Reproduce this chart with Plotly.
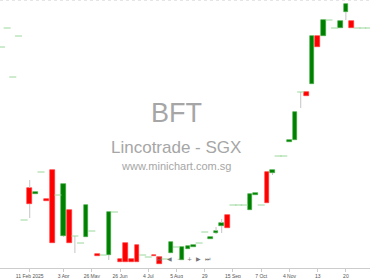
import plotly.graph_objects as go

# ---- data (price units; no axis scale shown) ----
opens  = [0.321, 0.340, 0.291, 0.332, 0.148, 0.180, 0.174, 0.196, 0.169, 0.198,
          0.173, 0.132, 0.158, 0.132, 0.125, 0.131, 0.137, 0.114, 0.113, 0.113,
          0.156, 0.109, 0.125, 0.109, 0.123, 0.113, 0.111, 0.113, 0.111, 0.109,
          0.115, 0.121, 0.108, 0.119, 0.121, 0.125, 0.136, 0.129, 0.135, 0.142,
          0.153, 0.163, 0.163, 0.163, 0.158, 0.173, 0.163, 0.196, 0.195, 0.212,
          0.212, 0.226, 0.228, 0.276, 0.276, 0.284, 0.332, 0.332, 0.348, 0.340,
          0.340, 0.356, 0.347, 0.340, 0.340, 0.340]
closes = [0.321, 0.340, 0.291, 0.332, 0.148, 0.164, 0.176, 0.196, 0.167, 0.125,
          0.173, 0.184, 0.125, 0.132, 0.125, 0.163, 0.137, 0.112, 0.113, 0.156,
          0.156, 0.106, 0.106, 0.106, 0.106, 0.113, 0.111, 0.112, 0.104, 0.109,
          0.126, 0.121, 0.121, 0.122, 0.123, 0.125, 0.136, 0.131, 0.137, 0.145,
          0.140, 0.163, 0.163, 0.163, 0.174, 0.175, 0.163, 0.165, 0.198, 0.212,
          0.212, 0.228, 0.256, 0.276, 0.272, 0.332, 0.321, 0.348, 0.348, 0.340,
          0.347, 0.364, 0.340, 0.340, 0.340, 0.340]
highs  = [0.321, 0.340, 0.291, 0.332, 0.148, 0.188, 0.176, 0.196, 0.169, 0.198,
          0.173, 0.184, 0.158, 0.132, 0.125, 0.163, 0.137, 0.114, 0.113, 0.156,
          0.156, 0.109, 0.125, 0.109, 0.123, 0.113, 0.111, 0.113, 0.111, 0.109,
          0.126, 0.121, 0.121, 0.122, 0.123, 0.125, 0.136, 0.131, 0.141, 0.149,
          0.153, 0.163, 0.163, 0.163, 0.174, 0.175, 0.163, 0.196, 0.198, 0.212,
          0.212, 0.228, 0.256, 0.276, 0.276, 0.332, 0.332, 0.348, 0.348, 0.340,
          0.347, 0.364, 0.347, 0.340, 0.340, 0.340]
lows   = [0.321, 0.340, 0.291, 0.332, 0.148, 0.150, 0.174, 0.196, 0.167, 0.125,
          0.173, 0.131, 0.125, 0.115, 0.125, 0.131, 0.137, 0.112, 0.113, 0.108,
          0.156, 0.106, 0.106, 0.106, 0.106, 0.113, 0.111, 0.112, 0.104, 0.109,
          0.115, 0.121, 0.108, 0.119, 0.121, 0.125, 0.136, 0.129, 0.134, 0.135,
          0.140, 0.163, 0.163, 0.163, 0.158, 0.173, 0.163, 0.165, 0.193, 0.212,
          0.212, 0.226, 0.228, 0.260, 0.272, 0.284, 0.321, 0.332, 0.348, 0.340,
          0.340, 0.348, 0.340, 0.340, 0.340, 0.340]

tick_index = [5, 11, 16, 21, 26, 31, 36, 41, 46, 51, 56, 61]
tick_text = ["11 Feb 2025", "3 Apr", "26 May", "26 Jun", "4 Jul", "5 Aug",
             "29", "15 Sep", "7 Oct", "4 Nov", "13", "20"]

idx = list(range(len(opens)))

GREEN = "#008000"
GREEN_EDGE = "#3aa83a"
RED = "#ff0000"
RED_EDGE = "#ff3030"
FLAT = "#9ad69a"
WICK = "#c4c4c4"

fig = go.Figure()

# wicks (only beyond the body)
wx, wy = [], []
for i in idx:
    top = max(opens[i], closes[i])
    bot = min(opens[i], closes[i])
    if highs[i] > top:
        wx += [i, i, None]; wy += [top, highs[i], None]
    if lows[i] < bot:
        wx += [i, i, None]; wy += [bot, lows[i], None]
fig.add_trace(go.Scatter(x=wx, y=wy, mode="lines", line=dict(color=WICK, width=1),
                         hoverinfo="skip", showlegend=False))

up = [i for i in idx if closes[i] > opens[i]]
dn = [i for i in idx if closes[i] < opens[i]]
flat = [i for i in idx if closes[i] == opens[i]]

fig.add_trace(go.Bar(x=up, base=[opens[i] for i in up],
                     y=[closes[i] - opens[i] for i in up], width=0.8,
                     marker=dict(color=GREEN, line=dict(color=GREEN_EDGE, width=0.6)),
                     showlegend=False))
fig.add_trace(go.Bar(x=dn, base=[closes[i] for i in dn],
                     y=[opens[i] - closes[i] for i in dn], width=0.8,
                     marker=dict(color=RED, line=dict(color=RED_EDGE, width=0.6)),
                     showlegend=False))
fig.add_trace(go.Scatter(x=flat, y=[closes[i] for i in flat], mode="markers",
                         marker=dict(symbol="line-ew", size=5,
                                     line=dict(color=FLAT, width=1)),
                         showlegend=False))

font_family = "Liberation Sans, Arial, sans-serif"

annotations = [
    dict(text="BFT", x=0.478, y=0.578, xref="paper", yref="paper", showarrow=False,
         font=dict(size=27, color="#a6a6a6", family=font_family)),
    dict(text="Lincotrade - SGX", x=0.477, y=0.45, xref="paper", yref="paper",
         showarrow=False, font=dict(size=17, color="#a6a6a6", family=font_family)),
    dict(text="www.minichart.com.sg", x=0.477, y=0.38, xref="paper", yref="paper",
         showarrow=False, font=dict(size=11, color="#a6a6a6", family=font_family)),
]
icons = [("⊟", 159), ("◀", 169), ("−", 179), ("+", 189), ("▶", 199), ("⏭", 208)]
for t, px in icons:
    annotations.append(dict(text=t, x=px / 370, y=(268 - 264) / 268, xref="paper",
                            yref="paper", showarrow=False,
                            font=dict(size=6, color="#777777", family="DejaVu Sans")))

fig.update_layout(
    width=370, height=278,
    margin=dict(l=0, r=0, t=0, b=10),
    paper_bgcolor="white", plot_bgcolor="white",
    barmode="overlay", bargap=0,
    xaxis=dict(range=[-0.266, 65.27], tickmode="array", tickvals=tick_index,
               ticktext=tick_text, showgrid=False, zeroline=False,
               showline=True, linecolor="#cccccc", linewidth=1,
               ticks="outside", ticklen=3, tickcolor="#cccccc",
               tickfont=dict(size=5, color="#555555", family=font_family),
               fixedrange=True),
    yaxis=dict(range=[0.100, 0.368], visible=False, showgrid=False, fixedrange=True),
    annotations=annotations,
    shapes=[dict(type="line", xref="paper", yref="paper", x0=0, x1=1, y0=1, y1=1,
                 line=dict(color="#cccccc", width=1, dash="dot"))],
)

fig.write_html("out.html")
